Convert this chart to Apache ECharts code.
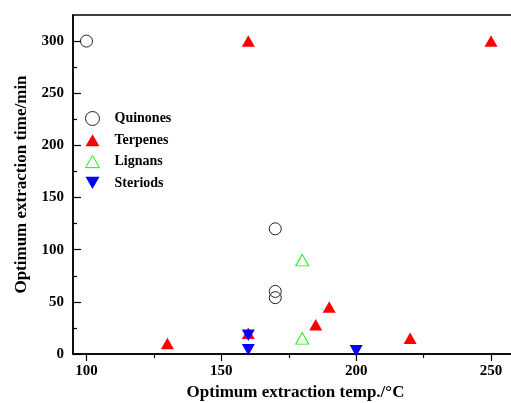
<!DOCTYPE html>
<html>
<head>
<meta charset="utf-8">
<script src="https://cdn.jsdelivr.net/npm/echarts@6/dist/echarts.min.js"></script>
<style>html,body{margin:0;padding:0;background:#fff;}#c{width:511px;height:403px;}</style>
</head>
<body>
<div id="c"></div>
<script>
const xMajorTicks = [100, 150, 200, 250];
const xMinorTicks = [125, 175, 225];
const yMajorTicks = [0, 50, 100, 150, 200, 250, 300];
const yMinorTicks = [25, 75, 125, 175, 225, 275];

const quinones = [[100, 300], [170, 120], [170, 60], [170, 54]];
const terpenes = [[160, 300], [250, 300], [130, 10], [160, 20], [185, 28], [190, 45], [220, 15]];
const lignans = [[180, 90], [180, 15]];
const steriods = [[160, 18], [160, 4], [200, 3]];

const FONT = "'Liberation Serif', 'Times New Roman', serif";
const downTri = 'path://M0,0 L10,0 L5,8.66 Z';
const upTri = 'path://M5,0 L10,8.66 L0,8.66 Z';

const chart = echarts.init(document.getElementById('c'), null, {renderer: 'canvas'});
const option = {
  animation: false,
  backgroundColor: '#fff',
  grid: {left: 73, width: 445, top: 15, height: 339, show: true, borderColor: '#000', borderWidth: 1.5,
         backgroundColor: 'transparent', containLabel: false, outerBoundsMode: 'none'},
  legend: {
    orient: 'vertical', left: 80, top: 106, itemWidth: 14, itemHeight: 14, itemGap: 7.3,
    itemStyle: {borderWidth: 1},
    textStyle: {fontFamily: FONT, fontWeight: 'bold', fontSize: 14, color: '#000', padding: [0, 0, 0, 10]},
    data: ['Quinones', 'Terpenes', 'Lignans', 'Steriods']
  },
  xAxis: [{
    type: 'value', min: 95, max: 260,
    name: 'Optimum extraction temp./°C', nameLocation: 'middle', nameGap: 25,
    nameTextStyle: {fontFamily: FONT, fontWeight: 'bold', fontSize: 17, color: '#000'},
    axisLine: {show: true, lineStyle: {color: '#000', width: 1.5}},
    axisTick: {show: true, inside: false, length: 7, lineStyle: {color: '#000', width: 1.2}, customValues: xMajorTicks},
    axisLabel: {fontFamily: FONT, fontWeight: 'bold', fontSize: 15, color: '#000', margin: 10, customValues: xMajorTicks},
    splitLine: {show: false}
  }, {
    type: 'value', min: 95, max: 260, position: 'bottom',
    axisLine: {show: false},
    axisTick: {show: true, inside: false, length: 4, lineStyle: {color: '#000', width: 1.2}, customValues: xMinorTicks},
    axisLabel: {show: false, customValues: xMinorTicks},
    splitLine: {show: false}
  }],
  yAxis: [{
    type: 'value', min: 0, max: 325,
    name: 'Optimum extraction time/min', nameLocation: 'middle', nameGap: 43, nameRotate: 90,
    nameTextStyle: {fontFamily: FONT, fontWeight: 'bold', fontSize: 17, color: '#000'},
    axisLine: {show: true, lineStyle: {color: '#000', width: 1.5}},
    axisTick: {show: true, inside: true, length: 8, lineStyle: {color: '#000', width: 1.2}, customValues: yMajorTicks},
    axisLabel: {fontFamily: FONT, fontWeight: 'bold', fontSize: 15, color: '#000', margin: 9, customValues: yMajorTicks},
    splitLine: {show: false}
  }, {
    type: 'value', min: 0, max: 325, position: 'left',
    axisLine: {show: false},
    axisTick: {show: true, inside: true, length: 4, lineStyle: {color: '#000', width: 1.2}, customValues: yMinorTicks},
    axisLabel: {show: false, customValues: yMinorTicks},
    splitLine: {show: false}
  }],
  series: [
    {name: 'Quinones', type: 'scatter', data: quinones, symbol: 'circle', symbolSize: 12,
     itemStyle: {color: 'rgba(255,255,255,0)', borderColor: '#222', borderWidth: 1, opacity: 1}},
    {name: 'Terpenes', type: 'scatter', data: terpenes, symbol: upTri, symbolSize: [13, 11.5],
     itemStyle: {color: '#ff0000', opacity: 1}},
    {name: 'Lignans', type: 'scatter', data: lignans, symbol: upTri, symbolSize: [13, 11.5],
     itemStyle: {color: 'rgba(255,255,255,0)', borderColor: '#11ee11', borderWidth: 1, opacity: 1}},
    {name: 'Steriods', type: 'scatter', data: steriods, symbol: downTri, symbolSize: [13, 11.5],
     itemStyle: {color: '#0000ff', opacity: 1}}
  ]
};
chart.setOption(option);
</script>
</body>
</html>
